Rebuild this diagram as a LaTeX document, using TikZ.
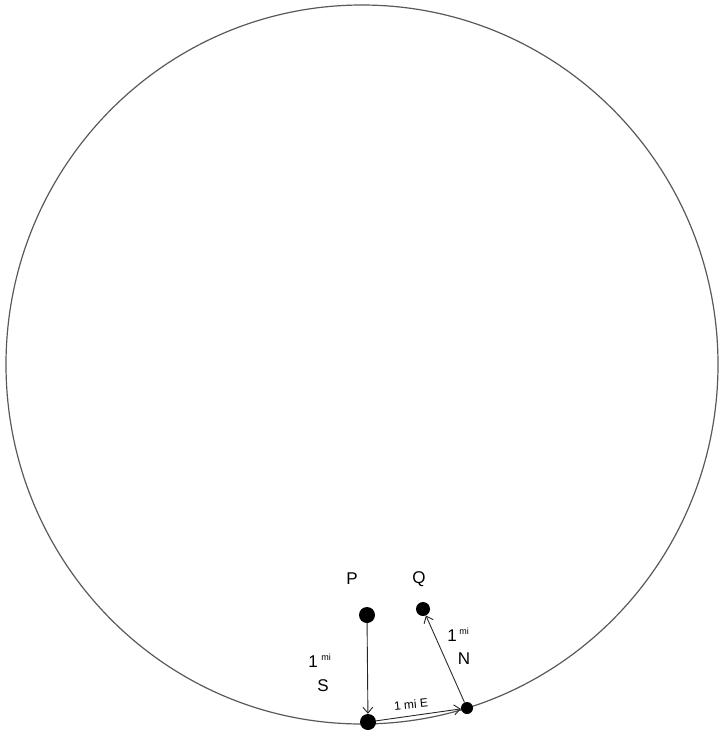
\documentclass[tikz,border=0pt]{standalone}
\usepackage{fontspec}
\setmainfont{Liberation Sans}
\usetikzlibrary{arrows.meta}
\begin{document}
\begin{tikzpicture}[x=1pt,y=-1pt,
  dotnode/.style={circle,fill=black,inner sep=0pt},
  hand/.style={font=\fontsize{17}{17}\selectfont},
  mid/.style={font=\fontsize{12}{12}\selectfont},
  small/.style={font=\fontsize{9}{9}\selectfont},
  conn/.style={draw=black!85,line width=0.9pt,-{Straight Barb[length=6pt,width=10pt]}}]
\useasboundingbox (0,0) rectangle (726,737);
\draw[draw=black!65,line width=1.2pt] (362,364.5) ellipse [x radius=356, y radius=359.5];
\node[dotnode,minimum size=16pt] (p) at (367,615) {};
\node[dotnode,minimum size=14pt] (q) at (423,609) {};
\node[dotnode,minimum size=16pt] (b) at (368,722) {};
\node[dotnode,minimum size=12pt] (r) at (467,708) {};
\node[hand] (plab) at (352,579) {P};
\node[hand] (qlab) at (419,579) {Q};
\draw[conn] (p) -- (b);
\draw[conn] (b) -- (r);
\draw[conn] (r) -- (q);
\node[hand] (s1) at (313,662) {1};
\node[small] (s2) at (326,657) {mi};
\node[hand] (s3) at (323,686) {S};
\node[mid,rotate=6] (e1) at (411,704) {1 mi E};
\node[hand] (n1) at (452,636) {1};
\node[small] (n2) at (464,631) {mi};
\node[hand] (n3) at (464,659) {N};
\end{tikzpicture}
\end{document}
